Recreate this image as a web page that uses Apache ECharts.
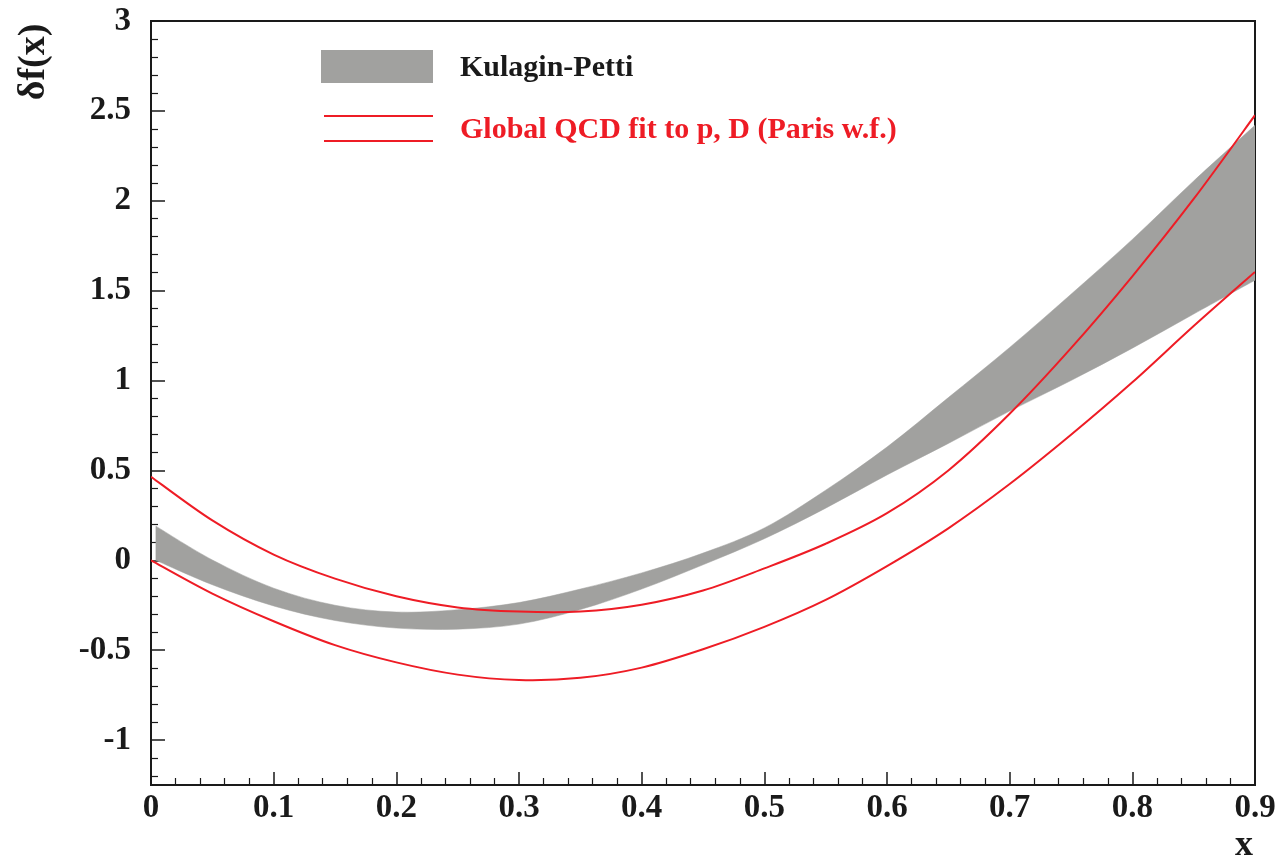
<!DOCTYPE html>
<html>
<head>
<meta charset="utf-8">
<script src="https://cdn.jsdelivr.net/npm/echarts@6/dist/echarts.min.js"></script>
<style>
  html, body { margin: 0; padding: 0; background: #fff; }
  #chart { width: 1279px; height: 857px; }
</style>
</head>
<body>
<div id="chart"></div>
<script>
// x grid shared by the two QCD-fit curves
const xGrid = [0, 0.05, 0.1, 0.15, 0.2, 0.25, 0.3, 0.35, 0.4, 0.45, 0.5,
               0.55, 0.6, 0.65, 0.7, 0.75, 0.8, 0.85, 0.9];
// Global QCD fit to p, D (Paris w.f.): upper and lower bounds
const qcdUpper = [0.465, 0.222, 0.032, -0.102, -0.200, -0.262, -0.285, -0.285, -0.247, -0.168,
                  -0.045, 0.092, 0.262, 0.500, 0.815, 1.180, 1.580, 2.010, 2.476];
const qcdLower = [0.000, -0.185, -0.339, -0.472, -0.568, -0.636, -0.666, -0.654, -0.597, -0.495,
                  -0.370, -0.220, -0.032, 0.178, 0.424, 0.698, 0.990, 1.303, 1.604];
// Kulagin-Petti band: x grid and band edges
const kpX = [0.004, 0.05, 0.1, 0.15, 0.2, 0.25, 0.3, 0.35, 0.4, 0.45, 0.5,
             0.55, 0.6, 0.65, 0.7, 0.75, 0.8, 0.85, 0.9];
const kpUpper = [0.190, 0.002, -0.155, -0.250, -0.288, -0.275, -0.235, -0.160, -0.070, 0.040,
                 0.180, 0.390, 0.630, 0.905, 1.184, 1.480, 1.785, 2.110, 2.420];
const kpLower = [0.000, -0.136, -0.254, -0.335, -0.377, -0.383, -0.355, -0.274, -0.160, -0.025,
                 0.120, 0.290, 0.475, 0.650, 0.830, 1.000, 1.180, 1.370, 1.558];
// axis ticks
const yMajorTicks = [-1, -0.5, 0, 0.5, 1, 1.5, 2, 2.5, 3];
const yMin = -1.25, yMax = 3;

const yMinorTicks = [];
for (let k = Math.ceil(yMin * 10); k <= yMax * 10; k++) {
  if (k % 5 !== 0) yMinorTicks.push(k / 10);
}

const RED = '#ee1c25';
const GREY = '#a1a19f';
const INK = '#1a1a1a';
const SERIF = '"Liberation Serif", "DejaVu Serif", serif';

// Catmull-Rom spline through pixel points, as SVG path commands (no leading M)
function splineSegments(pts) {
  let d = '';
  for (let i = 0; i < pts.length - 1; i++) {
    const p0 = pts[Math.max(i - 1, 0)], p1 = pts[i], p2 = pts[i + 1], p3 = pts[Math.min(i + 2, pts.length - 1)];
    const c1 = [p1[0] + (p2[0] - p0[0]) / 6, p1[1] + (p2[1] - p0[1]) / 6];
    const c2 = [p2[0] - (p3[0] - p1[0]) / 6, p2[1] - (p3[1] - p1[1]) / 6];
    d += ' C' + c1[0] + ',' + c1[1] + ' ' + c2[0] + ',' + c2[1] + ' ' + p2[0] + ',' + p2[1];
  }
  return d;
}

// a smooth curve series through (xs[i], ys[i]) in data space
function curveSeries(name, xs, ys) {
  return {
    name: name, type: 'custom', coordinateSystem: 'cartesian2d', clip: true, z: 3,
    data: [[xs[0], ys[0]]],
    renderItem: function (params, api) {
      const pts = xs.map((x, i) => api.coord([x, ys[i]]));
      const d = 'M' + pts[0][0] + ',' + pts[0][1] + splineSegments(pts);
      return { type: 'path', shape: { pathData: d },
               style: { fill: 'none', stroke: RED, lineWidth: 2 } };
    }
  };
}

const chart = echarts.init(document.getElementById('chart'), null, { renderer: 'canvas' });

const yAxisBase = {
  type: 'value', min: yMin, max: yMax, position: 'left',
  splitLine: { show: false }
};

chart.setOption({
  animation: false,
  backgroundColor: '#fff',
  grid: {
    left: 151, top: 21, right: 24, bottom: 72,
    show: true, borderColor: INK, borderWidth: 2, backgroundColor: 'transparent'
  },
  xAxis: {
    type: 'value', min: 0, max: 0.9, interval: 0.1,
    axisLine: { show: true, onZero: false, lineStyle: { color: INK, width: 2 } },
    axisTick: { show: true, inside: true, length: 13, lineStyle: { color: INK, width: 1.5 } },
    minorTick: { show: true, splitNumber: 5, length: 7, lineStyle: { color: INK, width: 1.2 } },
    splitLine: { show: false },
    axisLabel: {
      margin: 7, color: INK, fontFamily: SERIF, fontWeight: 'bold', fontSize: 33,
      formatter: v => String(+v.toFixed(2))
    }
  },
  yAxis: [
    Object.assign({}, yAxisBase, {
      axisLine: { show: true, onZero: false, lineStyle: { color: INK, width: 2 } },
      axisTick: { show: true, inside: true, length: 14, customValues: yMajorTicks,
                  lineStyle: { color: INK, width: 1.5 } },
      axisLabel: {
        margin: 20, customValues: yMajorTicks, color: INK,
        fontFamily: SERIF, fontWeight: 'bold', fontSize: 33,
        formatter: v => String(+(+v).toFixed(2))
      }
    }),
    Object.assign({}, yAxisBase, {
      axisLine: { show: false, onZero: false },
      axisTick: { show: true, inside: true, length: 7, customValues: yMinorTicks,
                  lineStyle: { color: INK, width: 1.2 } },
      axisLabel: { show: false }
    })
  ],
  graphic: [
    // axis titles
    { type: 'text', x: 34, y: 62, rotation: Math.PI / 2,
      style: { text: 'δf(x)', fill: INK, font: 'bold 38px ' + SERIF, align: 'center', verticalAlign: 'middle' } },
    { type: 'text', x: 1244, y: 846,
      style: { text: 'x', fill: INK, font: 'bold 36px ' + SERIF, align: 'center', verticalAlign: 'middle' } },
    // legend
    { type: 'rect', shape: { x: 321, y: 50, width: 112, height: 33 }, style: { fill: GREY } },
    { type: 'text', x: 460, y: 68,
      style: { text: 'Kulagin-Petti', fill: INK, font: 'bold 30px ' + SERIF, verticalAlign: 'middle' } },
    { type: 'line', shape: { x1: 324, y1: 116, x2: 433, y2: 116 }, style: { stroke: RED, lineWidth: 2 } },
    { type: 'line', shape: { x1: 324, y1: 141, x2: 433, y2: 141 }, style: { stroke: RED, lineWidth: 2 } },
    { type: 'text', x: 460, y: 130,
      style: { text: 'Global QCD fit to p, D (Paris w.f.)', fill: RED, font: 'bold 30px ' + SERIF, verticalAlign: 'middle' } }
  ],
  series: [
    {
      name: 'Kulagin-Petti',
      type: 'custom',
      coordinateSystem: 'cartesian2d',
      clip: true,
      z: 1,
      data: [[kpX[0], kpLower[0]]],
      renderItem: function (params, api) {
        const up = kpX.map((x, i) => api.coord([x, kpUpper[i]]));
        const lo = kpX.map((x, i) => api.coord([x, kpLower[i]])).reverse();
        const d = 'M' + up[0][0] + ',' + up[0][1] + splineSegments(up) +
                  ' L' + lo[0][0] + ',' + lo[0][1] + splineSegments(lo) + ' Z';
        return { type: 'path', shape: { pathData: d }, style: { fill: GREY, stroke: GREY, lineWidth: 0.5 } };
      }
    },
    curveSeries('QCD upper', xGrid, qcdUpper),
    curveSeries('QCD lower', xGrid, qcdLower)
  ]
});
</script>
</body>
</html>
